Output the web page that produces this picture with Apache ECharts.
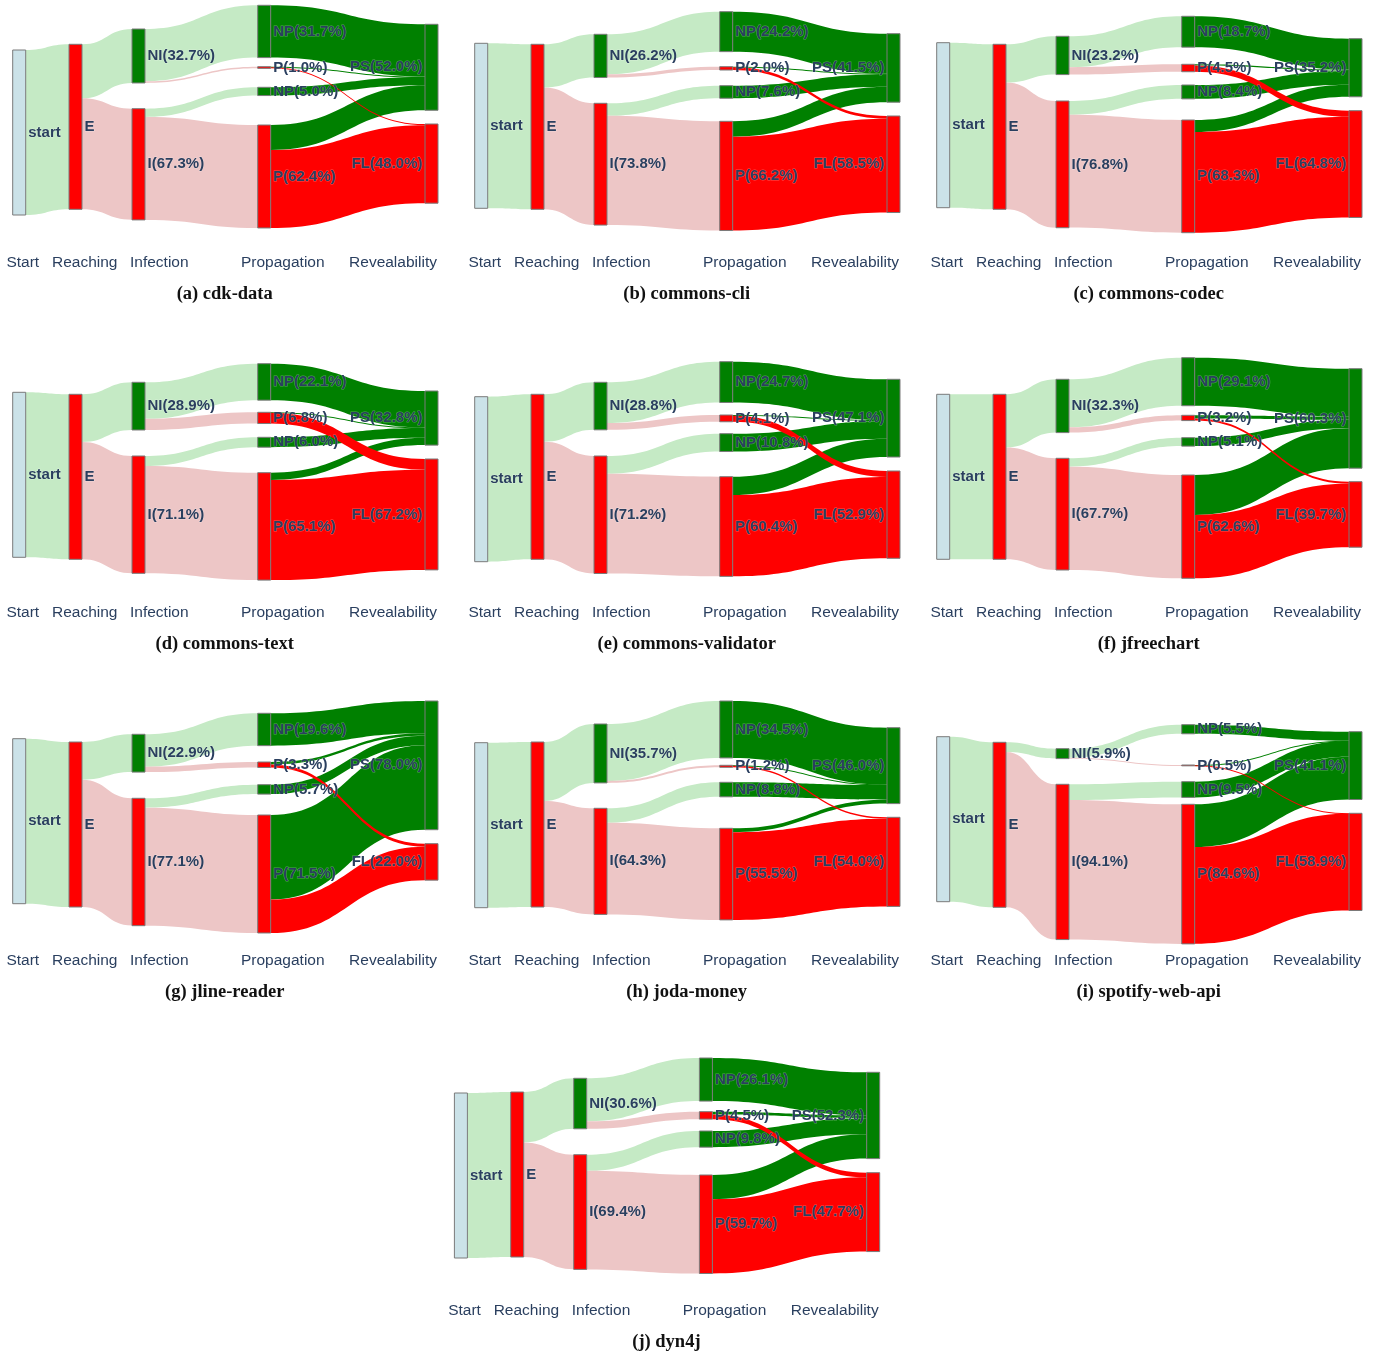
<!DOCTYPE html>
<html><head><meta charset="utf-8">
<script src="https://cdn.jsdelivr.net/npm/echarts@6/dist/echarts.min.js"></script>
<style>html,body{margin:0;padding:0;background:#fff}#c{width:1380px;height:1356px}</style>
</head><body><div id="c"></div><script>
// ---------------- data ----------------
const projects = ['cdk-data','commons-cli','commons-codec','commons-text','commons-validator','jfreechart','jline-reader','joda-money','spotify-web-api','dyn4j'];
const letters = ['a','b','c','d','e','f','g','h','i','j'];
const stageNames = ['Start','Reaching','Infection','Propagation','Revealability'];
const niPct = [32.7,26.2,23.2,28.9,28.8,32.3,22.9,35.7,5.9,30.6];
const iPct  = [67.3,73.8,76.8,71.1,71.2,67.7,77.1,64.3,94.1,69.4];
const npNiPct = [31.7,24.2,18.7,22.1,24.7,29.1,19.6,34.5,5.5,26.1];
const pNiPct  = [1.0,2.0,4.5,6.8,4.1,3.2,3.3,1.2,0.5,4.5];
const npIPct  = [5.0,7.6,8.4,6.0,10.8,5.1,5.7,8.8,9.5,9.8];
const pIPct   = [62.4,66.2,68.3,65.1,60.4,62.6,71.5,55.5,84.6,59.7];
const psPct = [52.0,41.5,35.2,32.8,47.1,60.3,78.0,46.0,41.1,52.3];
const flPct = [48.0,58.5,64.8,67.2,52.9,39.7,22.0,54.0,58.9,47.7];
// estimated splits of the propagation flows (read from band widths)
const pNiToPS = [0.3,0.4,0.8,0.3,0.5,1.9,1.5,0.3,0.2,1.7];
const pNiToFL = [0.7,1.6,3.7,6.5,3.6,1.3,1.8,0.9,0.3,2.8];
const pIToPS  = [15.1,9.3,7.3,4.4,11.1,24.2,51.2,2.4,25.9,14.7];
const pIToFL  = [47.3,56.9,61.0,60.7,49.3,38.4,20.3,53.1,58.6,45.0];

// ---------------- layout (positions, not data) ----------------
const panelOrigin = [[0,0],[462,0],[924,0],[0,350],[462,350],[924,350],[0,698],[462,698],[924,698],[441.7,1048]];
// node tops (px from panel top): start,E,NI,I,NP1,P1,NP2,P2,PS,FL
const nodeTops = [
  [50,44.3,29,108.7,5.3,66.7,87.3,125,24.3,124],
  [43.3,44.3,34.3,103.3,11.7,66.7,85.7,121.3,33.7,116],
  [42.7,44.3,36.3,101,16.3,64.3,85,120,38.7,110.7],
  [42.3,44.3,32.3,106,13.7,62.3,87.3,122.7,41,109],
  [46.7,44.3,32.3,106,11.7,65,83.7,126.7,29.3,121],
  [44.3,44.3,29.3,108.3,7.7,65.3,87.7,125,18.7,131.7],
  [40.7,44,36.3,100.3,15.3,64,86.7,117,3,145.7],
  [44.7,44,26,110.3,3,67.3,84.3,130.3,29.7,119.3],
  [38.7,44.3,50.7,86.3,26.7,67,83.7,106.3,33.7,115.3],
  [45,44,30.3,106.7,10,63.7,83,127,24.3,124.7]
];
const colX = [12.7,69,132,257.7,425];
const nodeCol = [0,1,2,2,3,3,3,3,4,4];
const stageX = [22.8,84.7,159.3,282.8,393];
const NODE_W = 13, KY = 1.65;
const RED = '#ff0000', GREEN = '#008000', LIGHTBLUE = '#cbe2e8';
const LGREEN = '#c5eac5', PINK = '#edc6c6';
const FONT = '"Liberation Sans", Arial, sans-serif';

const series = [];
const graphics = [];
for (let k = 0; k < projects.length; k++) {
  const [ox, oy] = panelOrigin[k];
  const names = ['start','E','NI','I','NP1','P1','NP2','P2','PS','FL'];
  const labels = ['start','E',
    'NI(' + niPct[k].toFixed(1) + '%)', 'I(' + iPct[k].toFixed(1) + '%)',
    'NP(' + npNiPct[k].toFixed(1) + '%)', 'P(' + pNiPct[k].toFixed(1) + '%)',
    'NP(' + npIPct[k].toFixed(1) + '%)', 'P(' + pIPct[k].toFixed(1) + '%)',
    'PS(' + psPct[k].toFixed(1) + '%)', 'FL(' + flPct[k].toFixed(1) + '%)'];
  const colors = [LIGHTBLUE, RED, GREEN, RED, GREEN, RED, GREEN, RED, GREEN, RED];
  const links = [
    ['start','E',100,LGREEN],
    ['E','NI',niPct[k],LGREEN],
    ['E','I',iPct[k],PINK],
    ['NI','NP1',npNiPct[k],LGREEN],
    ['NI','P1',pNiPct[k],PINK],
    ['I','NP2',npIPct[k],LGREEN],
    ['I','P2',pIPct[k],PINK],
    ['NP1','PS',npNiPct[k],GREEN],
    ['P1','PS',pNiToPS[k],GREEN],
    ['NP2','PS',npIPct[k],GREEN],
    ['P2','PS',pIToPS[k],GREEN],
    ['P2','FL',pIToFL[k],RED],
    ['P1','FL',pNiToFL[k],RED]
  ];
  const vin = {}, vout = {};
  names.forEach(n => { vin[n] = 0; vout[n] = 0; });
  links.forEach(l => { vout[l[0]] += l[2]; vin[l[1]] += l[2]; });
  const colSum = [0,0,0,0,0];
  names.forEach((n, j) => { colSum[nodeCol[j]] += Math.max(vin[n], vout[n]); });
  const H = KY * Math.max.apply(null, colSum);
  const W = colX[4] + NODE_W - colX[0];
  const nodes = names.map((n, j) => ({
    name: n,
    localX: (colX[nodeCol[j]] - colX[0]) / W,
    localY: nodeTops[k][j] / H,
    itemStyle: { color: colors[j], borderColor: '#7a7a7a', borderWidth: 1 },
    label: { formatter: labels[j], position: nodeCol[j] === 4 ? 'left' : 'right' }
  }));
  series.push({
    type: 'sankey',
    left: ox + colX[0], top: oy, width: W, height: H,
    nodeWidth: NODE_W, nodeGap: 0, layoutIterations: 0,
    draggable: false, silent: true,
    emphasis: { disabled: true },
    label: { show: true, distance: 2, color: '#2a3f5f', fontWeight: 'bold', fontSize: 15, fontFamily: FONT,
             textBorderColor: 'rgba(255,255,255,0.3)', textBorderWidth: 1 },
    data: nodes,
    links: links.map(l => ({ source: l[0], target: l[1], value: l[2],
      lineStyle: { color: l[3], opacity: 1, curveness: 0.5 } }))
  });
  stageNames.forEach((s, j) => {
    graphics.push({ type: 'text', x: ox + stageX[j], y: oy + 262.7, silent: true,
      style: { text: s, fill: '#2a3f5f', fontSize: 15.5, fontFamily: FONT, align: 'center', verticalAlign: 'middle' } });
  });
  graphics.push({ type: 'text', x: ox + 224.7, y: oy + 294, silent: true,
    style: { text: '(' + letters[k] + ') ' + projects[k], fill: '#111', fontSize: 18.5, fontWeight: 'bold',
             fontFamily: '"Liberation Serif", "Times New Roman", serif', align: 'center', verticalAlign: 'middle' } });
}

const chart = echarts.init(document.getElementById('c'), null, { renderer: 'canvas' });
chart.setOption({ animation: false, backgroundColor: '#fff', series: series, graphic: { elements: graphics } });
</script></body></html>
